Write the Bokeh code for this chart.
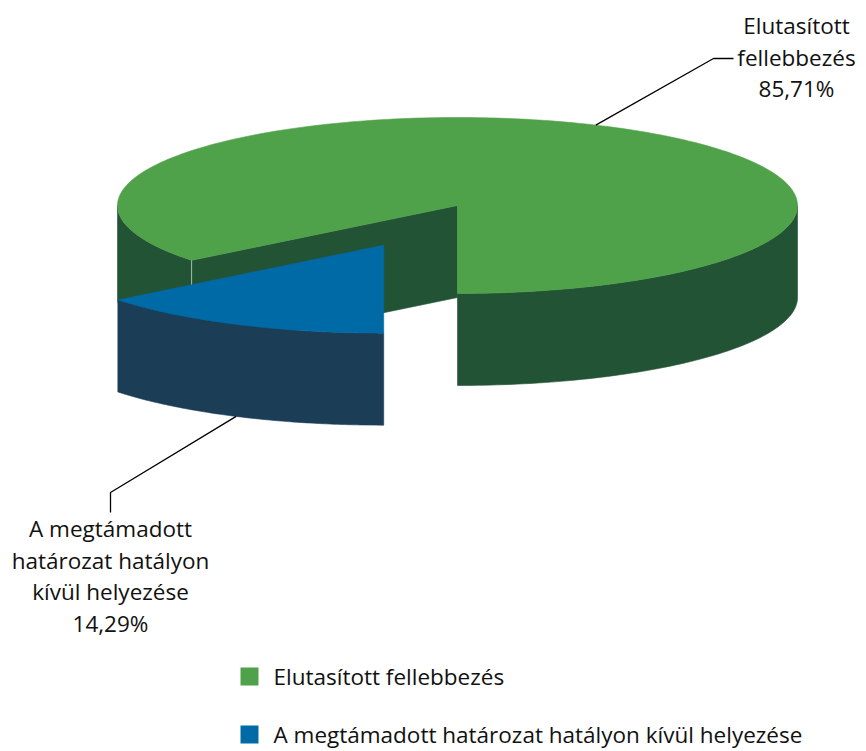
import numpy as np
from bokeh.plotting import figure
from bokeh.models import Range1d
from bokeh.core.properties import value
from bokeh.embed import file_html
from bokeh.resources import INLINE

# ---------------- data ----------------
categories = ["Elutasított fellebbezés",
              "A megtámadott határozat hatályon kívül helyezése"]
label_lines = [["Elutasított", "fellebbezés"],
               ["A megtámadott", "határozat hatályon", "kívül helyezése"]]
shares = [85.71, 14.29]

# ---------------- style ----------------
top_colors = ["#50a24a", "#006aa6"]
side_colors = ["#235335", "#1b3d55"]
FONT = value("Open Sans")
FSIZE = "22.5px"

CX, CY, RX, RY, DEPTH = 457.0, 205.0, 340.0, 88.0, 92.0
EXPLODE = [0.0, 0.5]
START = 270.0

W, H = 866, 751
p = figure(width=W, height=H, output_backend="svg", toolbar_location=None,
           x_range=Range1d(0, W), y_range=Range1d(H, 0),
           min_border=0, x_axis_location=None, y_axis_location=None)
p.grid.visible = False
p.outline_line_color = None
p.background_fill_color = "white"
p.border_fill_color = "white"


def pt(a, dx, dy, down=0.0):
    r = np.radians(a)
    return CX + dx + RX * np.cos(r), CY + dy - RY * np.sin(r) + down


fr = np.array(shares) / sum(shares)
bounds = START + 360.0 * np.concatenate([[0], np.cumsum(fr)])
slices = []
for i in range(len(shares)):
    a0, a1 = bounds[i], bounds[i + 1]
    mid = 0.5 * (a0 + a1)
    e = EXPLODE[i]
    dx = e * RX * np.cos(np.radians(mid))
    dy = -e * RY * np.sin(np.radians(mid))
    slices.append((i, a0, a1, mid, dx, dy))

# draw back to front
order = sorted(slices, key=lambda s: -np.sin(np.radians(s[3])))
for (i, a0, a1, mid, dx, dy) in order:
    fxs, fys = [], []
    cx0, cy0 = CX + dx, CY + dy
    # radial (cut) faces that face the viewer
    for a, vis in ((a0, np.cos(np.radians(a0)) > 1e-6),
                   (a1, np.cos(np.radians(a1)) < -1e-6)):
        if vis:
            rx_, ry_ = pt(a, dx, dy)
            fxs.append([cx0, rx_, rx_, cx0])
            fys.append([cy0, ry_, ry_ + DEPTH, cy0 + DEPTH])
    # outer walls (lower half visible)
    for k in range(-1, 3):
        lo, hi = max(a0, 180 + 360 * k), min(a1, 360 + 360 * k)
        if hi > lo:
            aa = np.linspace(lo, hi, 80)
            tx, ty = pt(aa, dx, dy)
            fxs.append(list(tx) + list(tx[::-1]))
            fys.append(list(ty) + list((ty + DEPTH)[::-1]))
    p.patches(fxs, fys, fill_color=side_colors[i], line_color=side_colors[i],
              line_width=0.6)
    # top face
    aa = np.linspace(a0, a1, 300)
    tx, ty = pt(aa, dx, dy)
    p.patch([cx0] + list(tx), [cy0] + list(ty), fill_color=top_colors[i],
            line_color=top_colors[i], line_width=0.6)
    # faint highlight on the vertical edge where cut face meets wall
    if np.cos(np.radians(a1)) < -1e-6:
        ex, ey = pt(a1, dx, dy)
        p.line([ex, ex], [ey, ey + 38], line_color="#c8d8c8", line_width=1,
               line_alpha=0.8)

# ---------------- labels with leaders ----------------
def pct(v):
    return f"{v:.2f}".replace(".", ",") + "%"

LINE_H = 31.5
# green label (upper right)
g_lines = label_lines[0] + [pct(shares[0])]
gx, gy0 = 796, 25
sx, sy = pt(66, 0, 0)
p.line([sx, 713, 733], [sy, 58, 58], line_color="black", line_width=1.3)
p.text([gx] * len(g_lines), [gy0 + LINE_H * k for k in range(len(g_lines))],
       text=g_lines, text_font=FONT, text_font_size=FSIZE, text_color="#111111",
       text_align="center", text_baseline="middle")

# blue label (lower left)
b = slices[1]
bx0, by0 = pt(b[3], b[4], b[5], DEPTH)
b_lines = label_lines[1] + [pct(shares[1])]
lx, ly0 = 110, 528
p.line([bx0, lx, lx], [by0, 492, 512], line_color="black", line_width=1.3)
p.text([lx] * len(b_lines), [ly0 + LINE_H * k for k in range(len(b_lines))],
       text=b_lines, text_font=FONT, text_font_size=FSIZE, text_color="#111111",
       text_align="center", text_baseline="middle")

# ---------------- legend ----------------
leg_y = [676, 734]
p.rect([249, 249], leg_y, width=18, height=18, fill_color=top_colors,
       line_color=None)
p.text([273, 273], leg_y, text=categories, text_font=FONT,
       text_font_size=FSIZE, text_color="#111111", text_align="left",
       text_baseline="middle")

open("out.html", "w").write(file_html(p, INLINE))
